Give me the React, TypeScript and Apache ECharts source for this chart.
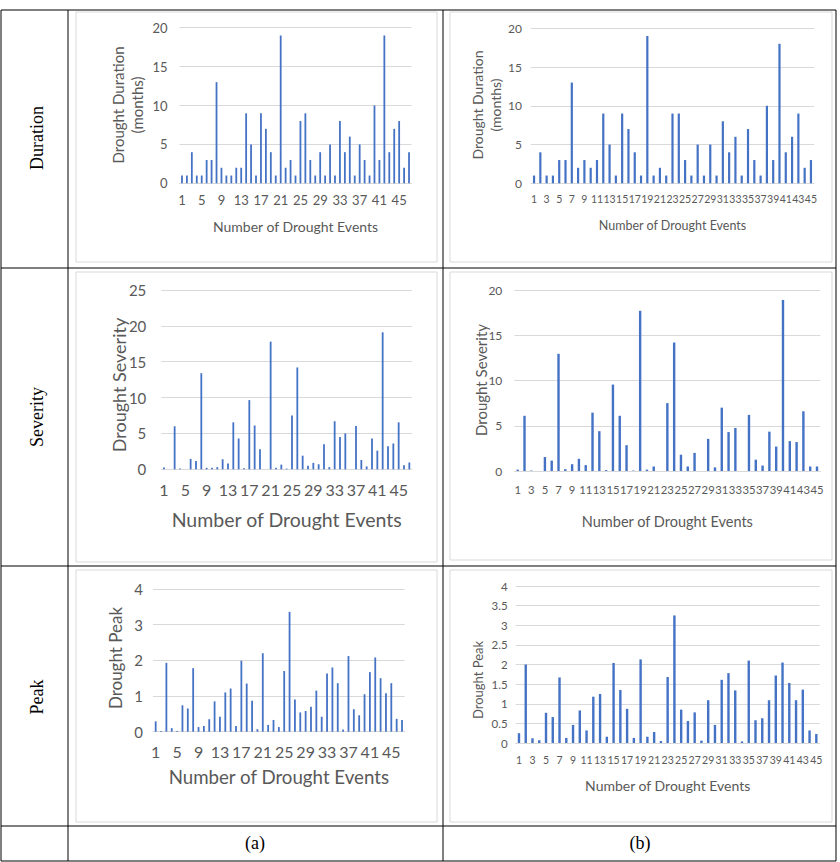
import React, { useEffect, useRef } from "react";
import * as echarts from "echarts";

const eventsA = Array.from({ length: 47 }, (_, i) => String(i + 1));
const eventsB = Array.from({ length: 45 }, (_, i) => String(i + 1));

const durationA = [1, 1, 4, 1, 1, 3, 3, 13, 2, 1, 1, 2, 2, 9, 5, 1, 9, 7, 4, 1, 19, 2, 3, 1, 8, 9, 3, 1, 4, 1, 5, 1, 8, 4, 6, 1, 5, 3, 1, 10, 3, 19, 4, 7, 8, 2, 4];
const durationB = [1, 4, 1, 1, 3, 3, 13, 2, 3, 2, 3, 9, 5, 1, 9, 7, 4, 1, 19, 1, 2, 1, 9, 9, 3, 1, 5, 1, 5, 1, 8, 4, 6, 1, 7, 3, 1, 10, 3, 18, 4, 6, 9, 2, 3];
const severityA = [0.25, 0, 6.0, 0.1, 0, 1.45, 1.15, 13.4, 0.2, 0.2, 0.3, 1.4, 0.8, 6.55, 4.3, 0.15, 9.65, 6.1, 2.8, 0, 17.8, 0.2, 0.65, 0.1, 7.5, 14.2, 1.9, 0.5, 0.9, 0.7, 3.5, 0.3, 6.7, 4.5, 5.0, 0, 6.05, 1.3, 0.4, 4.3, 2.6, 19.1, 3.2, 3.6, 6.55, 0.55, 0.95];
const severityB = [0.15, 6.1, 0.05, 0, 1.55, 1.15, 12.95, 0.2, 0.75, 1.35, 0.65, 6.45, 4.4, 0.1, 9.55, 6.1, 2.85, 0.05, 17.7, 0.15, 0.5, 0, 7.5, 14.2, 1.8, 0.5, 2.0, 0, 3.55, 0.4, 7.0, 4.3, 4.75, 0, 6.2, 1.25, 0.6, 4.35, 2.7, 18.9, 3.3, 3.2, 6.6, 0.5, 0.5];
const peakA = [0.29, 0.02, 1.93, 0.1, 0.02, 0.74, 0.65, 1.78, 0.13, 0.16, 0.35, 0.85, 0.42, 1.1, 1.21, 0.16, 1.99, 1.35, 0.87, 0.07, 2.2, 0.19, 0.33, 0.13, 1.7, 3.36, 0.9, 0.54, 0.58, 0.7, 1.15, 0.42, 1.63, 1.8, 1.36, 0.06, 2.12, 0.63, 0.46, 1.05, 1.67, 2.08, 1.5, 1.08, 1.36, 0.36, 0.33];
const peakB = [0.25, 2.0, 0.12, 0.07, 0.77, 0.66, 1.67, 0.13, 0.46, 0.83, 0.32, 1.18, 1.25, 0.16, 2.04, 1.35, 0.87, 0.13, 2.13, 0.16, 0.28, 0.05, 1.68, 3.25, 0.85, 0.56, 0.78, 0.06, 1.09, 0.46, 1.61, 1.78, 1.34, 0.04, 2.1, 0.58, 0.63, 1.09, 1.72, 2.05, 1.53, 1.09, 1.36, 0.32, 0.23];

const rowLabels = ["Duration", "Severity", "Peak"];
const colLabels = ["(a)", "(b)"];
const xTitle = "Number of Drought Events";

const SANS = 'Lato, "Liberation Sans", sans-serif';
const SERIF = '"Liberation Serif", "DejaVu Serif", serif';
const GRAY = "#595959";
const GRID = "#d9d9d9";
const BLUE = "#4472C4";

type Panel = {
  cats: string[];
  data: number[];
  grid: { left: number; top: number; width: number; height: number };
  max: number;
  interval: number;
  yLabelSize: number;
  yLabelMargin: number;
  xLabelSize: number;
  xLabelMargin: number;
  xStep: number;
  barWidth: number;
  yName: string[];
  yNameX: number;
  yNameY: number;
  yNameSize: number;
  yNameLH: number;
  xNameY: number;
  xNameSize: number;
  frame: [number, number, number, number];
};

const panels: Panel[] = [
  {
    cats: eventsA, data: durationA,
    grid: { left: 179.5, top: 27.7, width: 232, height: 155.6 },
    max: 20, interval: 5, yLabelSize: 13, yLabelMargin: 12, xLabelSize: 13, xLabelMargin: 10, xStep: 4, barWidth: 1.8,
    yName: ["Drought Duration", "(months)"], yNameX: 127, yNameY: 105, yNameSize: 15, yNameLH: 19, xNameY: 226, xNameSize: 14,
    frame: [76, 12, 361, 250],
  },
  {
    cats: eventsB, data: durationB,
    grid: { left: 530.9, top: 28.3, width: 283.2, height: 155 },
    max: 20, interval: 5, yLabelSize: 12, yLabelMargin: 9, xLabelSize: 10.5, xLabelMargin: 10, xStep: 2, barWidth: 2.2,
    yName: ["Drought Duration", "(months)"], yNameX: 486, yNameY: 105, yNameSize: 14, yNameLH: 18, xNameY: 225, xNameSize: 12.5,
    frame: [450, 12, 382, 250],
  },
  {
    cats: eventsA, data: severityA,
    grid: { left: 161.3, top: 290, width: 250.7, height: 179.3 },
    max: 25, interval: 5, yLabelSize: 15, yLabelMargin: 15, xLabelSize: 16, xLabelMargin: 12, xStep: 4, barWidth: 1.8,
    yName: ["Drought Severity"], yNameX: 119, yNameY: 385, yNameSize: 18, yNameLH: 22, xNameY: 519, xNameSize: 19.5,
    frame: [76, 272, 361, 290],
  },
  {
    cats: eventsB, data: severityB,
    grid: { left: 514.3, top: 290, width: 306.1, height: 181 },
    max: 20, interval: 5, yLabelSize: 12, yLabelMargin: 12, xLabelSize: 11.3, xLabelMargin: 13, xStep: 2, barWidth: 2.4,
    yName: ["Drought Severity"], yNameX: 481, yNameY: 380, yNameSize: 15, yNameLH: 18, xNameY: 521, xNameSize: 14.5,
    frame: [450, 272, 382, 288],
  },
  {
    cats: eventsA, data: peakA,
    grid: { left: 153, top: 589, width: 251.7, height: 142.7 },
    max: 4, interval: 1, yLabelSize: 15, yLabelMargin: 10, xLabelSize: 16, xLabelMargin: 12, xStep: 4, barWidth: 1.8,
    yName: ["Drought Peak"], yNameX: 115, yNameY: 658, yNameSize: 17, yNameLH: 20, xNameY: 777, xNameSize: 18.7,
    frame: [76, 570, 361, 252],
  },
  {
    cats: eventsB, data: peakB,
    grid: { left: 515.6, top: 586, width: 304.1, height: 157 },
    max: 4, interval: 0.5, yLabelSize: 11.5, yLabelMargin: 8, xLabelSize: 10.5, xLabelMargin: 11, xStep: 2, barWidth: 2.4,
    yName: ["Drought Peak"], yNameX: 478, yNameY: 680, yNameSize: 13, yNameLH: 16, xNameY: 785, xNameSize: 14,
    frame: [450, 570, 382, 252],
  },
];

export default function App() {
  const ref = useRef<HTMLDivElement>(null);
  useEffect(() => {
    if (!ref.current) return;
    const chart = echarts.init(ref.current, undefined, { renderer: "svg" });

    const graphic: any[] = [];
    panels.forEach((p) => {
      graphic.push({
        type: "rect",
        shape: { x: p.frame[0], y: p.frame[1], width: p.frame[2], height: p.frame[3] },
        style: { fill: "none", stroke: GRID, lineWidth: 1 },
        z: 1,
      });
    });
    const hLines = [10, 268, 566, 826, 861];
    const vLines = [1, 68, 443, 836];
    hLines.forEach((y) =>
      graphic.push({ type: "line", shape: { x1: 1, y1: y, x2: 836, y2: y }, style: { stroke: "#000", lineWidth: 1 }, z: 5 })
    );
    vLines.forEach((x) =>
      graphic.push({ type: "line", shape: { x1: x, y1: 10, x2: x, y2: 861 }, style: { stroke: "#000", lineWidth: 1 }, z: 5 })
    );
    const rowY = [138, 417, 697];
    rowLabels.forEach((t, i) =>
      graphic.push({
        type: "text", x: 37, y: rowY[i], rotation: Math.PI / 2,
        style: { text: t, font: `18px ${SERIF}`, fill: "#000", align: "center", verticalAlign: "middle" },
        z: 6,
      })
    );
    const colX = [255, 640];
    colLabels.forEach((t, i) =>
      graphic.push({
        type: "text", x: colX[i], y: 843,
        style: { text: t, font: `18px ${SERIF}`, fill: "#000", align: "center", verticalAlign: "middle" },
        z: 6,
      })
    );
    panels.forEach((p) => {
      graphic.push({
        type: "text", x: p.yNameX, y: p.yNameY, rotation: Math.PI / 2,
        style: {
          text: p.yName.join("\n"), font: `${p.yNameSize}px ${SANS}`, fill: GRAY,
          align: "center", verticalAlign: "middle", lineHeight: p.yNameLH,
        },
        z: 6,
      });
      graphic.push({
        type: "text", x: p.grid.left + p.grid.width / 2, y: p.xNameY,
        style: { text: xTitle, font: `${p.xNameSize}px ${SANS}`, fill: GRAY, align: "center", verticalAlign: "middle" },
        z: 6,
      });
    });

    const option: any = {
      animation: false,
      backgroundColor: "#fff",
      graphic,
      grid: panels.map((p) => ({ ...p.grid, containLabel: false })),
      xAxis: panels.map((p, i) => ({
        type: "category",
        gridIndex: i,
        data: p.cats,
        boundaryGap: true,
        axisLine: { show: true, lineStyle: { color: GRID } },
        axisTick: { show: false },
        axisLabel: {
          interval: (idx: number) => idx % p.xStep === 0,
          fontSize: p.xLabelSize, color: GRAY, fontFamily: SANS, margin: p.xLabelMargin,
        },
      })),
      yAxis: panels.map((p, i) => ({
        type: "value",
        gridIndex: i,
        min: 0,
        max: p.max,
        interval: p.interval,
        axisLine: { show: false },
        axisTick: { show: false },
        splitLine: { show: true, lineStyle: { color: GRID } },
        axisLabel: { fontSize: p.yLabelSize, color: GRAY, fontFamily: SANS, margin: p.yLabelMargin },
      })),
      series: panels.map((p, i) => ({
        type: "bar",
        xAxisIndex: i,
        yAxisIndex: i,
        data: p.data,
        barWidth: p.barWidth,
        itemStyle: { color: BLUE },
      })),
    };
    chart.setOption(option);
    return () => chart.dispose();
  }, []);

  return (
    <div
      ref={ref}
      style={{ position: "absolute", left: 0, top: 0, width: 840, height: 862, background: "#fff" }}
    />
  );
}
